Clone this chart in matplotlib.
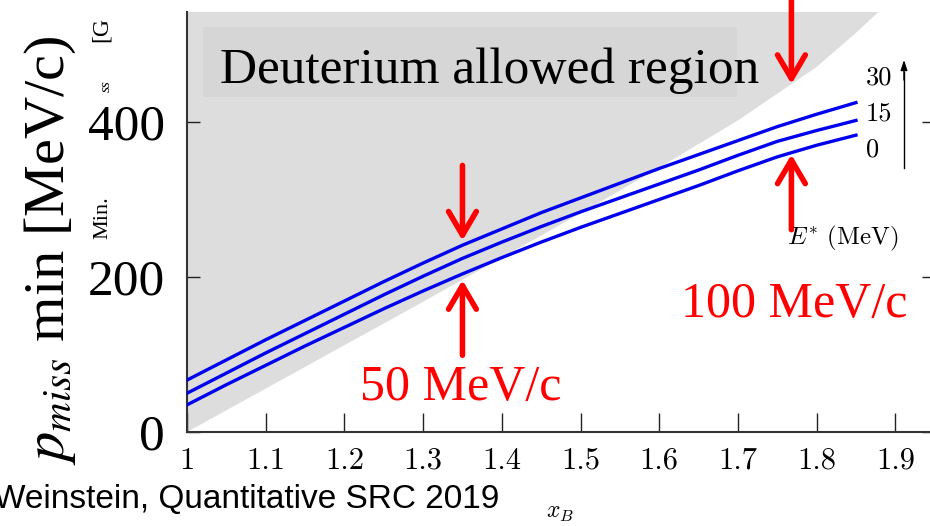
import matplotlib.pyplot as plt
from matplotlib.patches import Rectangle

plt.rcParams['mathtext.fontset'] = 'stix'

W, H = 930, 526

# minimum missing momentum vs x_B for three excitation energies
xb = [1.0, 1.05, 1.1, 1.15, 1.2, 1.25, 1.3, 1.35, 1.4, 1.45, 1.5, 1.55, 1.6, 1.65, 1.7, 1.75, 1.8, 1.85]
pmin_e30 = [67, 93, 119, 144, 169, 194, 218, 241, 262, 283, 302, 321, 340, 358, 376, 394, 410, 425]
pmin_e15 = [50, 76, 102, 127, 152, 177, 201, 224, 245, 265, 284, 302, 320, 338, 357, 375, 389, 402]
pmin_e0 = [35, 61, 86, 111, 135, 159, 182, 204, 225, 245, 264, 282, 300, 318, 337, 355, 370, 383]

# lower edge of the deuterium-allowed band
xb_d = [1.0, 1.1, 1.2, 1.3, 1.4, 1.5, 1.6, 1.7, 1.8, 1.85, 1.9, 1.95]
pmin_d = [0, 56, 112, 168, 225, 282, 341, 402, 471, 515, 562, 615]

xticks = [1.0, 1.1, 1.2, 1.3, 1.4, 1.5, 1.6, 1.7, 1.8, 1.9]
xticklabels = ['1', '1.1', '1.2', '1.3', '1.4', '1.5', '1.6', '1.7', '1.8', '1.9']
yticks = [0, 200, 400]
estar_labels = ['30', '15', '0']

# arrows: (x_B, tail, head)
arrows = [(1.35, 344, 247), (1.35, 99, 196), (1.768, 560, 449), (1.768, 261, 358)]


def fpos(x, y):
    return x / W, 1 - y / H


fig = plt.figure(figsize=(W / 100, H / 100), dpi=100)
ax = fig.add_axes([187 / W, 1 - 432 / H, (935 - 187) / W, (432 - 12) / H])

ax.fill_between(xb_d, pmin_d, 700, color='#dddddd', lw=0, zorder=0)
ax.add_patch(Rectangle((1.0203, 432), 0.679, 90, color='#d6d6d6', lw=0, zorder=1))
ax.text(1.384, 466, 'Deuterium allowed region', family='Liberation Serif',
        fontsize=37, ha='center', va='center', zorder=2)

for p in (pmin_e30, pmin_e15, pmin_e0):
    ax.plot(xb, p, color='#0000ee', lw=2.4, zorder=3)

for x, tail, head in arrows:
    ax.annotate('', xy=(x, head), xytext=(x, tail), annotation_clip=False,
                arrowprops=dict(arrowstyle='->,head_length=0.85,head_width=0.5',
                                color='red', lw=4, mutation_scale=20,
                                shrinkA=0, shrinkB=0), zorder=4)

ax.set_xlim(1.0, 1.0 + (935 - 187) / 787)
ax.set_ylim(0, (432 - 12) * 200 / 155)

ax.set_xticks(xticks)
ax.set_xticklabels(xticklabels, family='cmr10', fontsize=22)
ax.set_yticks(yticks)
ax.set_yticklabels([str(v) for v in yticks], family='Liberation Serif', fontsize=37)
ax.tick_params(axis='x', direction='in', length=13.5, width=1, pad=11, color='#222222')
ax.tick_params(axis='y', direction='in', length=9.5, width=1, pad=16, color='#222222',
               right=True)
for s in ('top', 'right'):
    ax.spines[s].set_visible(False)
for s in ('left', 'bottom'):
    ax.spines[s].set_color('#333333')
    ax.spines[s].set_linewidth(1.5)

# left-over pieces of the old axis title
fig.text(*fpos(103, 218), 'Min.', rotation=90, family='Liberation Serif', fontsize=16,
         ha='center', va='center')
fig.text(*fpos(106, 86), 'ss', rotation=90, family='Liberation Serif', fontsize=11,
         ha='center', va='center', style='italic')
fig.text(*fpos(101, 30), '[G', rotation=90, family='Liberation Serif', fontsize=17,
         ha='center', va='center')

fig.text(*fpos(50, 250), r'$p_{miss}$ min [MeV/c)', rotation=90, family='Liberation Serif',
         fontsize=42, ha='center', va='center')
fig.text(*fpos(560, 512), r'$x_B$', fontsize=17, ha='center', va='center',
         math_fontfamily='cm')

fig.text(*fpos(461, 388), '50 MeV/c', color='red', family='Liberation Serif',
         fontsize=36, ha='center', va='center')
fig.text(*fpos(794, 305), '100 MeV/c', color='red', family='Liberation Serif',
         fontsize=36, ha='center', va='center')

# excitation-energy key
for lab, y in zip(estar_labels, [78, 114, 150]):
    fig.text(*fpos(866, y), lab, family='cmr10', fontsize=19, ha='left', va='center')
fig.add_artist(plt.Line2D([904 / W, 904 / W], [1 - 168 / H, 1 - 72 / H], color='black', lw=1))
ax.annotate('', xy=fpos(904, 60), xytext=fpos(904, 80), xycoords='figure fraction',
            arrowprops=dict(arrowstyle='-|>,head_length=0.6,head_width=0.2', color='black',
                            lw=1, mutation_scale=10, shrinkA=0, shrinkB=0))
fig.text(*fpos(843, 238), r'$E^{*}$ (MeV)', family='cmr10', fontsize=18, ha='center',
         va='center', math_fontfamily='cm')

fig.text(*fpos(-6, 499), 'Weinstein, Quantitative SRC 2019', family='Liberation Sans',
         fontsize=24, ha='left', va='center')

plt.savefig('out.png', dpi=100)
